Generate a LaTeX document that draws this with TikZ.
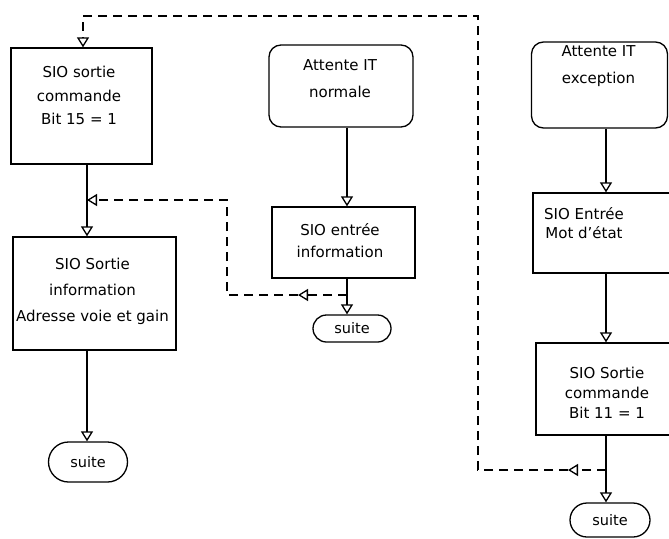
\documentclass[tikz,border=0pt]{standalone}
\usepackage{fontspec}
\setmainfont{DejaVu Sans}
\usetikzlibrary{arrows.meta,calc,shapes.misc}
\begin{document}
\begin{tikzpicture}[x=1pt,y=-1pt,
  line width=1.3pt,
  box/.style={draw, line width=1.3pt, inner sep=0pt},
  rbox/.style={box, rounded corners=12pt},
  term/.style={draw, line width=1.3pt, rounded rectangle, inner sep=0pt, font=\fontsize{14.5}{16}\selectfont},
  txt/.style={align=center, inner sep=0pt},
  flow/.style={-{Triangle[open,width=12pt,length=10pt,line width=1.3pt]}},
  dashline/.style={dash pattern=on 9pt off 6pt},
]
\useasboundingbox (0,0) rectangle (669,538);

% axes
\coordinate (axL) at (87,0);
\coordinate (axM) at (347,0);
\coordinate (axR) at (606,0);

% left column
\node[box, minimum width=141pt, minimum height=116pt] (b1) at (81.5,106) {};
\node[txt, font=\fontsize{15}{23.5}\selectfont] (b1t) at (79,95.5) {SIO sortie\\commande\\Bit 15 = 1};
\node[box, minimum width=163pt, minimum height=113pt] (b2) at (94.5,293.5) {};
\node[txt, font=\fontsize{15}{26}\selectfont] (b2t) at (92.5,291) {SIO Sortie\\information\\Adresse voie et gain};
\node[term, minimum width=79pt, minimum height=40pt] (s1) at (88,462) {suite};

% middle column
\node[rbox, minimum width=144pt, minimum height=82pt] (n1) at (341,86) {};
\node[txt, font=\fontsize{15}{27}\selectfont] (n1t) at (340,78.5) {Attente IT\\normale};
\node[box, minimum width=143pt, minimum height=71pt] (n2) at (343.5,242.5) {};
\node[txt, font=\fontsize{15}{22}\selectfont] (n2t) at (340,241) {SIO entrée\\information};
\node[term, minimum width=78pt, minimum height=27pt] (s2) at (352,328.5) {suite};

% right column
\node[rbox, minimum width=136pt, minimum height=86pt] (e1) at (599.5,85) {};
\node[txt, font=\fontsize{15}{27}\selectfont] (e1t) at (598.5,66.5) {Attente IT\\exception};
\node[box, minimum width=138pt, minimum height=80pt] (e2) at (602,233) {};
\node[txt, font=\fontsize{15}{19}\selectfont] (e2t) at (584,223) {SIO Entrée\\Mot d'état};
\node[box, minimum width=135pt, minimum height=92pt] (e3) at (603.5,389) {};
\node[txt, font=\fontsize{15}{20}\selectfont] (e3t) at (607,392.5) {SIO Sortie\\commande\\Bit 11 = 1};
\node[term, minimum width=80pt, minimum height=34pt] (s3) at (610,520) {suite};

% solid flow
\draw[flow] (b1.south -| axL) -- (b2.north -| axL);
\draw[flow] (b2.south -| axL) -- (s1.north -| axL);
\draw[flow] (n1.south -| axM) -- (n2.north -| axM);
\draw[flow] (n2.south -| axM) -- (s2.north -| axM);
\draw[flow] (e1.south -| axR) -- (e2.north -| axR);
\draw[flow] (e2.south -| axR) -- (e3.north -| axR);
\draw[flow] (e3.south -| axR) -- (s3.north -| axR);

% dashed loops
\coordinate (jL) at (87,200);
\coordinate (jM) at (347,295);
\coordinate (tipM) at (298,295);
\coordinate (cM1) at (227,295);
\coordinate (cM2) at (227,200);
\coordinate (jR) at (606,470);
\coordinate (tipR) at (568,470);
\coordinate (cR1) at (478,470);
\coordinate (cR2) at (478,16);
\coordinate (tl) at (83,16);

\draw[dashline, flow] (jM) -- (tipM);
\draw[dashline, flow] (tipM) -- (cM1) -- (cM2) -- (jL);
\draw[dashline, flow] (jR) -- (tipR);
\draw[dashline, flow] (tipR) -- (cR1) -- (cR2) -- (tl) -- (tl |- b1.north);
\end{tikzpicture}
\end{document}
